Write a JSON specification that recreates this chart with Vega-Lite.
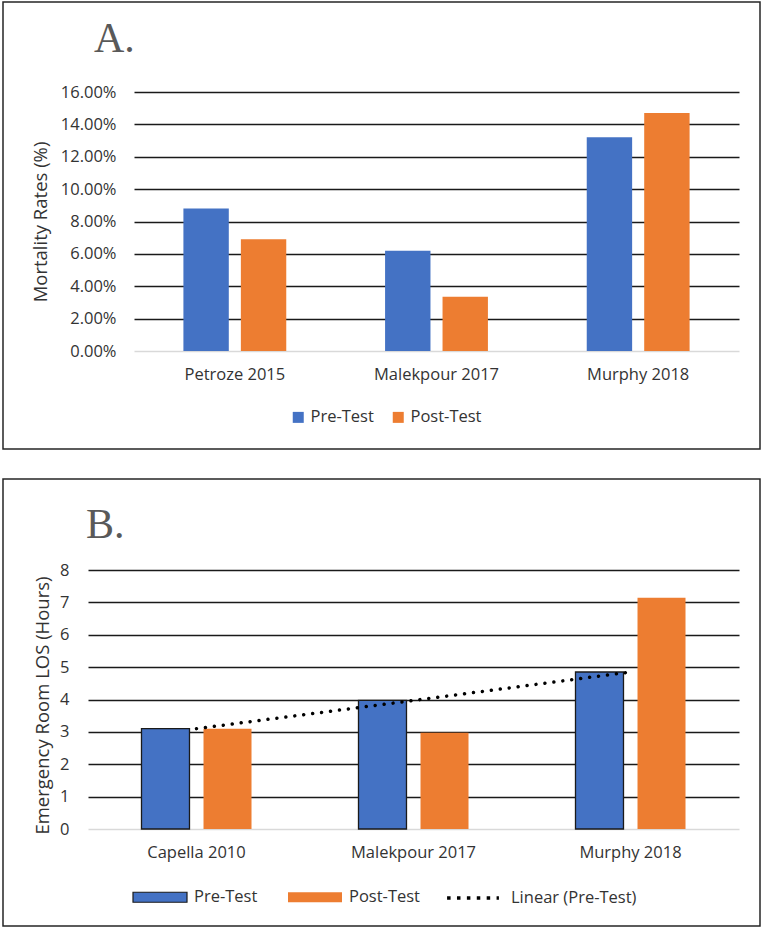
{
  "$schema": "https://vega.github.io/schema/vega-lite/v6.json",
  "padding": {"left": 2, "top": 1, "right": 1, "bottom": 1},
  "background": "white",
  "spacing": 30,
  "bounds": "flush",
  "config": {
    "view": {"stroke": "#262626", "strokeWidth": 1.5},
    "font": "Open Sans",
    "axis": {"labelColor": "#333333", "titleColor": "#333333", "labelFontSize": 16.5, "titleFontSize": 18.5, "titleFontWeight": "normal"},
    "legend": {"labelColor": "#333333", "labelFontSize": 16.5}
  },
  "datasets": {
    "mortality": [
      {"study": "Petroze 2015", "series": "Pre-Test", "value": 0.088},
      {"study": "Petroze 2015", "series": "Post-Test", "value": 0.069},
      {"study": "Malekpour 2017", "series": "Pre-Test", "value": 0.062},
      {"study": "Malekpour 2017", "series": "Post-Test", "value": 0.0335},
      {"study": "Murphy 2018", "series": "Pre-Test", "value": 0.132},
      {"study": "Murphy 2018", "series": "Post-Test", "value": 0.147}
    ],
    "losB": [
      {"study": "Capella 2010", "series": "Pre-Test", "value": 3.1},
      {"study": "Capella 2010", "series": "Post-Test", "value": 3.1},
      {"study": "Malekpour 2017", "series": "Pre-Test", "value": 3.97},
      {"study": "Malekpour 2017", "series": "Post-Test", "value": 2.97},
      {"study": "Murphy 2018", "series": "Pre-Test", "value": 4.85},
      {"study": "Murphy 2018", "series": "Post-Test", "value": 7.14}
    ],
    "trendB": [
      {"study": "Capella 2010", "trend": "Linear (Pre-Test)", "value": 3.1},
      {"study": "Malekpour 2017", "trend": "Linear (Pre-Test)", "value": 3.97},
      {"study": "Murphy 2018", "trend": "Linear (Pre-Test)", "value": 4.85}
    ]
  },
  "resolve": {
    "scale": {"color": "independent", "stroke": "independent", "xOffset": "independent", "x": "independent", "y": "independent"},
    "legend": {"color": "independent", "stroke": "independent"}
  },
  "vconcat": [
    {
      "width": 757,
      "height": 447,
      "data": {"name": "mortality"},
      "title": {"text": "A.", "anchor": "start", "frame": "group", "orient": "top", "offset": -92, "dx": 91, "baseline": "alphabetic", "font": "Liberation Serif", "fontSize": 42, "fontWeight": "normal", "color": "#595959"},
      "mark": {"type": "bar"},
      "encoding": {
        "x": {
          "field": "study", "type": "nominal",
          "scale": {"domain": ["Petroze 2015", "Malekpour 2017", "Murphy 2018"], "range": [131, 736], "paddingInner": 0.49, "paddingOuter": 0.245},
          "axis": {"title": null, "offset": -98, "labelAngle": 0, "ticks": false, "domainColor": "#d9d9d9", "domainWidth": 1.5, "labelPadding": 15, "grid": false}
        },
        "xOffset": {"field": "series", "type": "nominal", "scale": {"domain": ["Pre-Test", "Post-Test"], "paddingInner": 0.21}},
        "y": {
          "field": "value", "type": "quantitative",
          "scale": {"domain": [0, 0.16], "range": [349, 90], "nice": false},
          "axis": {
            "title": "Mortality Rates (%)",
            "values": [0, 0.02, 0.04, 0.06, 0.08, 0.1, 0.12, 0.14, 0.16],
            "format": ".2%", "offset": -116, "labelPadding": 3, "ticks": false, "domain": false,
            "grid": true,
            "gridColor": {"condition": {"test": "datum.value === 0", "value": "transparent"}, "value": "#1a1a1a"},
            "gridWidth": 1.3,
            "titleX": -79, "titleBaseline": "middle"
          }
        },
        "color": {
          "field": "series", "type": "nominal",
          "scale": {"domain": ["Pre-Test", "Post-Test"], "range": ["#4472C4", "#ED7D31"]},
          "legend": {"title": null, "orient": "none", "direction": "horizontal", "legendX": 287, "legendY": 407, "symbolType": "square", "symbolSize": 121, "labelOffset": 4, "columnPadding": 16, "padding": 0, "symbolStrokeWidth": 0}
        }
      }
    },
    {
      "width": 757,
      "height": 447,
      "title": {"text": "B.", "anchor": "start", "frame": "group", "orient": "top", "offset": -101, "dx": 83, "baseline": "alphabetic", "font": "Liberation Serif", "fontSize": 42, "fontWeight": "normal", "color": "#595959"},
      "resolve": {"scale": {"color": "independent", "stroke": "independent"}, "legend": {"color": "independent", "stroke": "independent"}},
      "encoding": {
        "x": {
          "field": "study", "type": "nominal",
          "scale": {"domain": ["Capella 2010", "Malekpour 2017", "Murphy 2018"], "range": [85, 736], "paddingInner": 0.493, "paddingOuter": 0.2465},
          "axis": {"title": null, "offset": -97, "labelAngle": 0, "ticks": false, "domainColor": "#d9d9d9", "domainWidth": 1.5, "labelPadding": 15, "grid": false}
        },
        "y": {
          "field": "value", "type": "quantitative",
          "scale": {"domain": [0, 8], "range": [350, 91], "nice": false},
          "axis": {
            "title": "Emergency Room LOS (Hours)",
            "values": [0, 1, 2, 3, 4, 5, 6, 7, 8],
            "offset": -69, "labelPadding": 3, "ticks": false, "domain": false,
            "grid": true,
            "gridColor": {"condition": {"test": "datum.value === 0", "value": "transparent"}, "value": "#1a1a1a"},
            "gridWidth": 1.3,
            "titleX": -30, "titleY": 226, "titleBaseline": "middle"
          }
        }
      },
      "layer": [
        {
          "data": {"name": "losB"},
          "mark": {"type": "bar", "strokeWidth": 1.3},
          "encoding": {
            "xOffset": {"field": "series", "type": "nominal", "scale": {"domain": ["Pre-Test", "Post-Test"], "paddingInner": 0.226}},
            "color": {
              "field": "series", "type": "nominal",
              "scale": {"domain": ["Pre-Test", "Post-Test"], "range": ["#4472C4", "#ED7D31"]},
              "legend": {
                "title": null, "orient": "none", "direction": "horizontal", "legendX": 129, "legendY": 390,
                "symbolType": "M-1,-0.185H1V0.185H-1Z", "symbolSize": 2916, "symbolStrokeWidth": 1.2,
                "labelOffset": 6, "columnPadding": 27, "padding": 0
              }
            },
            "stroke": {
              "field": "series", "type": "nominal",
              "scale": {"domain": ["Pre-Test", "Post-Test"], "range": ["#1a1a1a", "transparent"]},
              "legend": {
                "title": null, "orient": "none", "direction": "horizontal", "legendX": 129, "legendY": 390,
                "symbolType": "M-1,-0.185H1V0.185H-1Z", "symbolSize": 2916, "symbolStrokeWidth": 1.2,
                "labelOffset": 6, "columnPadding": 27, "padding": 0
              }
            }
          }
        },
        {
          "data": {"name": "trendB"},
          "mark": {"type": "line", "strokeDash": [0.01, 9], "strokeCap": "round", "strokeWidth": 3.5},
          "encoding": {
            "color": {
              "field": "trend", "type": "nominal",
              "scale": {"domain": ["Linear (Pre-Test)"], "range": ["#000000"]},
              "legend": {
                "title": null, "orient": "none", "direction": "horizontal", "legendX": 441, "legendY": 390,
                "symbolType": "M-0.96,0H0.96", "symbolSize": 2916, "symbolStrokeWidth": 3.5, "symbolDash": [3.5, 6.4],
                "labelOffset": 9, "padding": 0
              }
            }
          }
        }
      ]
    }
  ]
}
